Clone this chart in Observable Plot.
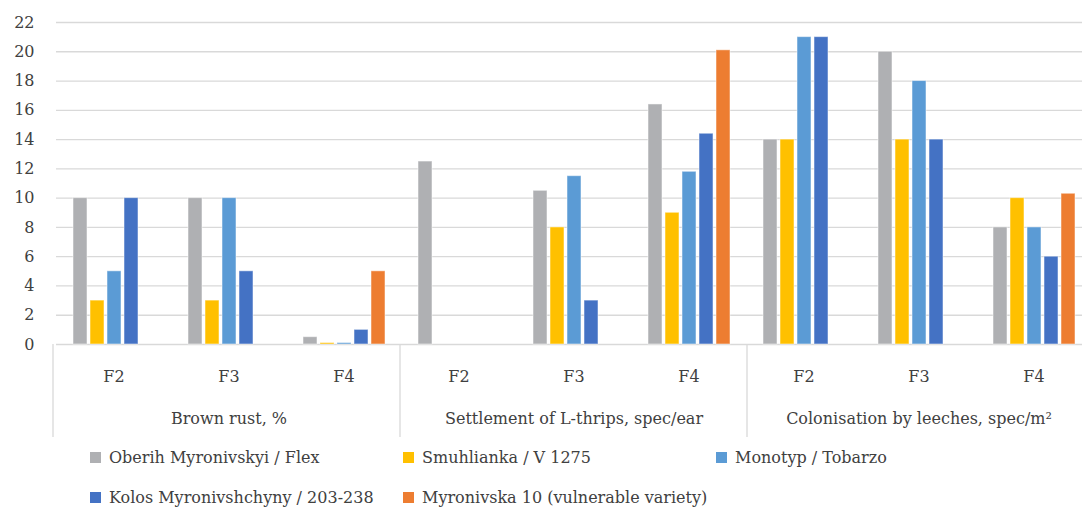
<!DOCTYPE html>
<html>
<head>
<meta charset="utf-8">
<script src="https://cdn.jsdelivr.net/npm/d3@7"></script>
<script src="https://cdn.jsdelivr.net/npm/@observablehq/plot@0.6"></script>
<style>
  html, body { margin: 0; padding: 0; background: white; overflow: hidden; }
  #chart { width: 1082px; overflow: hidden; }
  .legend { display: grid; grid-template-columns: 313px 313px 313px; row-gap: 20px;
            padding: 7px 0 0 90px; font-family: "DejaVu Serif"; font-size: 16px; color: #404040; }
  .item { display: flex; align-items: center; height: 20px; white-space: nowrap; }
  .sw { width: 11px; height: 11px; margin-right: 8px; flex: none; }
</style>
</head>
<body>
<div id="chart"></div>
<script>
const groups = ["Brown rust, %", "Settlement of L-thrips, spec/ear", "Colonisation by leeches, spec/m²"];
const categories = ["F2", "F3", "F4"];
const series = ["Oberih Myronivskyi / Flex", "Smuhlianka / V 1275", "Monotyp / Tobarzo",
                "Kolos Myronivshchyny / 203-238", "Myronivska 10 (vulnerable variety)"];
const colors = ["#AFB0B3", "#FFC000", "#5B9BD5", "#4472C4", "#ED7D31"];
const yTicks = [0, 2, 4, 6, 8, 10, 12, 14, 16, 18, 20, 22];

// values in order: group-major, F2, F3, F4
const oberih     = [10, 10, 0.5,   12.5, 10.5, 16.4,   14, 20, 8];
const smuhlianka = [3, 3, 0.1,     null, 8, 9,         14, 14, 10];
const monotyp    = [5, 10, 0.1,    null, 11.5, 11.8,   21, 18, 8];
const kolos      = [10, 5, 1,      null, 3, 14.4,      21, 14, 6];
const myronivska = [null, null, 5, null, null, 20.1,   null, null, 10.3];
const values = [oberih, smuhlianka, monotyp, kolos, myronivska];

const keys = [];
const rows = [];
groups.forEach((g, gi) => categories.forEach((c, ci) => {
  const key = g + "|" + c;
  keys.push(key);
  series.forEach((s, si) => {
    rows.push({key, group: g, cat: c, series: s, value: values[si][gi * 3 + ci]});
  });
}));

const W = 1094, H = 440;
const plot = Plot.plot({
  width: W,
  height: H,
  marginLeft: 53,
  marginRight: 0,
  marginTop: 22,
  marginBottom: 96,
  style: {fontFamily: "DejaVu Serif", fontSize: "16px", color: "#404040", background: "white", maxWidth: "none", overflow: "visible"},
  facet: {data: rows, x: "key"},
  fx: {domain: keys, padding: 0, axis: "bottom", tickSize: 0, tickPadding: 26, label: null, tickFormat: d => d.split("|")[1]},
  x: {domain: series, axis: null, paddingInner: 0.2, paddingOuter: 0.85},
  y: {domain: [0, 22], ticks: yTicks, tickSize: 0, tickPadding: 22, label: null},
  color: {domain: series, range: colors},
  marks: [
    Plot.ruleY(yTicks, {stroke: "#d9d9d9", strokeWidth: 1.3}),
    Plot.barY(rows, {filter: d => d.value != null, x: "series", y: "value", fill: "series", stroke: "white", strokeOpacity: 0.5, strokeWidth: 1}),
    Plot.text(rows, {filter: d => d.cat === "F3" && d.series === series[0], text: "group", frameAnchor: "bottom", dy: 79, fill: "#404040"})
  ]
});

// group separators in the category axis area
const fxs = plot.scale("fx");
const [r0, r1] = fxs.range;
const step = (r1 - r0) / fxs.domain.length;
const y0 = H - 96;
d3.select(plot).append("g").attr("stroke", "#d9d9d9").attr("stroke-width", 1.3)
  .selectAll("line").data(d3.range(0, groups.length + 1)).join("line")
  .attr("x1", k => r0 + k * categories.length * step)
  .attr("x2", k => r0 + k * categories.length * step)
  .attr("y1", y0).attr("y2", y0 + 93);

document.getElementById("chart").appendChild(plot);

const legend = d3.select("body").append("div").attr("class", "legend");
const items = legend.selectAll(".item").data(series).join("div").attr("class", "item");
items.append("span").attr("class", "sw").style("background", (d, i) => colors[i]);
items.append("span").text(d => d);
</script>
</body>
</html>
